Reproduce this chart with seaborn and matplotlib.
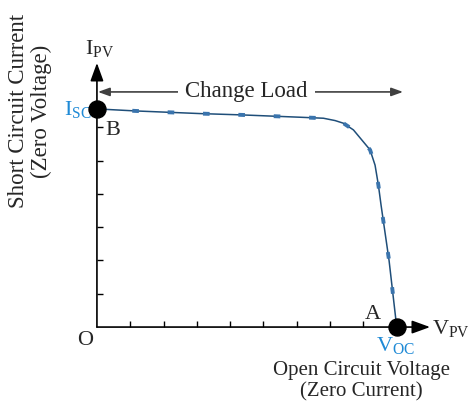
import pandas as pd
import seaborn as sns
import matplotlib.pyplot as plt

# I-V curve (axis units: one tick = 1)
v_pv = [0.0, 1.14, 3.09, 4.35, 6.10, 6.80, 7.15, 7.40, 7.70, 8.00, 8.20, 8.35, 8.45, 8.53, 8.77, 9.00]
i_pv = [6.55, 6.49, 6.41, 6.37, 6.30, 6.27, 6.20, 6.12, 5.92, 5.56, 5.32, 4.86, 4.26, 3.66, 2.00, 0.00]

# marked operating points: B = short circuit, A = open circuit
key_v = [0.0, 9.0]
key_i = [6.55, 0.0]

x_ticks = [1, 2, 3, 4, 5, 6, 7, 8]
y_ticks = [1, 2, 3, 4, 5, 6]

curve_col = "#1f4e79"
dash_col = "#3a74ad"
blue_txt = "#1f8ad6"


def main():
    sns.set_theme(style="white")
    plt.rcParams["font.family"] = ["Liberation Serif", "DejaVu Serif"]
    plt.rcParams["mathtext.fontset"] = "custom"
    plt.rcParams["mathtext.rm"] = "Liberation Serif"

    df = pd.DataFrame({"V": v_pv, "I": i_pv})
    pts = pd.DataFrame({"V": key_v, "I": key_i})

    fig = plt.figure(figsize=(4.72, 4.05), dpi=100)
    ax = fig.add_axes([0, 0, 1, 1])

    sns.lineplot(data=df, x="V", y="I", color=curve_col, linewidth=1.1, ax=ax)
    ax.plot(df["V"], df["I"], color=dash_col, linewidth=2.8,
            linestyle=(0, (1.7, 7.4)), solid_capstyle="butt")
    sns.scatterplot(data=pts, x="V", y="I", color="black", s=150,
                    edgecolor="black", zorder=5, ax=ax)

    ax.set_xlim(-2.91, 11.26)
    ax.set_ylim(-2.34, 9.82)

    for s in ["top", "right"]:
        ax.spines[s].set_visible(False)
    ax.spines["left"].set_position(("data", 0))
    ax.spines["bottom"].set_position(("data", 0))
    ax.spines["left"].set_color("none")
    ax.spines["bottom"].set_color("none")
    ax.set_xticks(x_ticks)
    ax.set_yticks(y_ticks)
    ax.set_xticklabels([])
    ax.set_yticklabels([])
    ax.tick_params(direction="in", length=4, width=1, colors="black",
                   left=True, bottom=True)
    ax.set_xlabel("")
    ax.set_ylabel("")

    # axes with arrows
    ax.annotate("", xy=(10.0, 0), xytext=(0, 0),
                arrowprops=dict(arrowstyle="-|>,head_length=0.55,head_width=0.2",
                                mutation_scale=20, color="black", lw=1.2,
                                shrinkA=0, shrinkB=0))
    ax.annotate("", xy=(0, 7.93), xytext=(0, 0),
                arrowprops=dict(arrowstyle="-|>,head_length=0.55,head_width=0.2",
                                mutation_scale=20, color="black", lw=1.2,
                                shrinkA=0, shrinkB=0))

    # change load double arrow
    ax.annotate("", xy=(0.03, 7.06), xytext=(9.19, 7.06),
                arrowprops=dict(arrowstyle="<|-|>,head_length=0.5,head_width=0.18",
                                mutation_scale=14, color="#404040", lw=1.2,
                                shrinkA=0, shrinkB=0))
    ax.text(4.49, 7.06, "Change Load", fontsize=16.5, ha="center", va="center",
            bbox=dict(boxstyle="square,pad=0.3", fc="white", ec="none"))

    ax.text(0.09, 8.35, r"$\mathrm{I_{PV}}$", fontsize=16, ha="center", va="center")
    ax.text(10.63, -0.05, r"$\mathrm{V_{PV}}$", fontsize=16, ha="center", va="center")
    ax.text(-0.36, -0.4, "O", fontsize=16, ha="center", va="center")
    ax.text(0.48, 5.9, "B", fontsize=16, ha="center", va="center")
    ax.text(8.28, 0.38, "A", fontsize=16, ha="center", va="center")
    ax.text(-0.15, 6.52, r"$\mathrm{I_{SC}}$", fontsize=16, ha="right",
            va="center", color=blue_txt)
    ax.text(8.95, -0.55, r"$\mathrm{V_{OC}}$", fontsize=16, ha="center",
            va="center", color=blue_txt)
    ax.text(7.95, -1.63, "Open Circuit Voltage\n(Zero Current)", fontsize=15,
            ha="center", va="center", multialignment="center", linespacing=1.15)
    ax.text(-2.0, 6.49, "Short Circuit Current\n(Zero Voltage)", fontsize=16.5,
            ha="center", va="center", rotation=90, multialignment="center",
            linespacing=1.1)

    fig.savefig("out.png", dpi=100)
    plt.close(fig)


if __name__ == "__main__":
    main()
